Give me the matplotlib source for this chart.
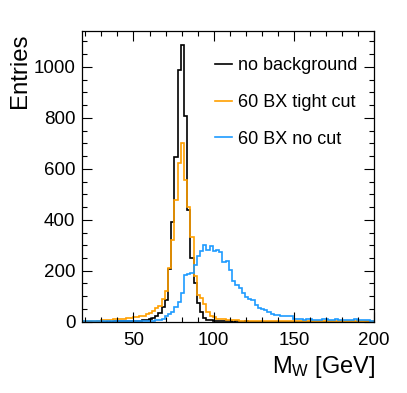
import numpy as np
import matplotlib
matplotlib.use("Agg")
import matplotlib.pyplot as plt
from matplotlib.ticker import MultipleLocator
from matplotlib.lines import Line2D

plt.rcParams['font.family'] = ['Liberation Sans', 'DejaVu Sans']
plt.rcParams['mathtext.fontset'] = 'custom'
plt.rcParams['mathtext.rm'] = 'Liberation Sans'
plt.rcParams['mathtext.it'] = 'Liberation Sans:italic'

# Histogram binning (GeV)
bin_edges = 17.5 + 2.0 * np.arange(93)

no_background = [
    0, 0, 0, 0, 0, 1, 0, 0, 1, 0,
    1, 1, 1, 1, 2, 2, 3, 3, 4, 5,
    6, 9, 14, 22, 35, 59, 86, 207, 393, 648,
    988, 1086, 808, 439, 250, 152, 74, 40, 16, 8,
    5, 3, 2, 2, 1, 1, 1, 0, 1, 0,
    0, 1, 0, 0, 0, 0, 0, 0, 0, 0,
    0, 0, 0, 0, 0, 0, 0, 0, 0, 0,
    0, 0, 0, 0, 0, 0, 0, 0, 0, 0,
    0, 0, 0, 0, 0, 0, 0, 0, 0, 0,
    0, 0,
]

bx60_tight_cut = [
    1, 1, 2, 2, 3, 4, 5, 6, 8, 8,
    10, 10, 12, 12, 14, 15, 18, 20, 21, 24,
    30, 35, 42, 55, 63, 90, 119, 210, 319, 478,
    622, 701, 557, 452, 332, 178, 106, 93, 70, 37,
    22, 20, 12, 10, 9, 8, 6, 5, 5, 4,
    4, 4, 3, 4, 3, 3, 3, 2, 3, 3,
    2, 3, 2, 2, 2, 2, 2, 2, 2, 2,
    2, 1, 2, 2, 1, 2, 2, 1, 2, 1,
    1, 2, 1, 1, 1, 2, 1, 1, 1, 1,
    1, 1,
]

bx60_no_cut = [
    1, 1, 1, 2, 1, 2, 2, 1, 2, 2,
    2, 2, 2, 2, 3, 2, 3, 3, 3, 3,
    3, 3, 4, 5, 6, 10, 21, 30, 37, 58,
    76, 112, 184, 188, 192, 224, 256, 276, 302, 282,
    298, 276, 280, 272, 236, 240, 204, 158, 145, 132,
    112, 97, 89, 84, 67, 54, 50, 47, 37, 31,
    27, 27, 24, 22, 21, 21, 10, 10, 9, 7,
    9, 9, 7, 7, 8, 11, 11, 7, 7, 9,
    7, 7, 6, 7, 7, 11, 6, 5, 5, 5,
    4, 4,
]

labels = ["no background", "60 BX tight cut", "60 BX no cut"]
colors = ["#000000", "#FF9F00", "#1E9BFF"]

W, H = 407, 393
fig = plt.figure(figsize=(W / 100, H / 100), dpi=100)
ax = fig.add_axes([81.7 / W, 1 - 321.7 / H, (374 - 81.7) / W, (321.7 - 31) / H])

series = [no_background, bx60_tight_cut, bx60_no_cut]
for vals, lab, col in zip(series, labels, colors):
    ax.stairs(np.array(vals, dtype=float), bin_edges, color=col, linewidth=1.2, label=lab)

ax.set_xlim(17.7, 200)
ax.set_ylim(0, 1141)

ax.xaxis.set_major_locator(MultipleLocator(50))
ax.xaxis.set_minor_locator(MultipleLocator(10))
ax.yaxis.set_major_locator(MultipleLocator(200))
ax.yaxis.set_minor_locator(MultipleLocator(50))
ax.tick_params(which='both', direction='in', top=True, right=True, width=0.8)
ax.tick_params(which='major', length=7, labelsize=13.5)
ax.tick_params(axis='x', which='major', pad=7.5)
ax.tick_params(axis='y', which='major', pad=4.5)
ax.tick_params(which='minor', length=3.5)
for s in ax.spines.values():
    s.set_linewidth(0.9)

fig.text(20 / W, 1 - 34 / H, "Entries", rotation=90, ha='center', va='top', fontsize=17.3)
fig.text(375 / W, 1 - 367 / H, r"M$_{\mathrm{W}}$ [GeV]", ha='right', va='center', fontsize=17)

leg_handles = [Line2D([], [], color=c, linewidth=1.2) for c in colors]
ax.legend(leg_handles, labels, loc='upper left',
          bbox_to_anchor=(215 / W, 1 - 57.5 / H), bbox_transform=fig.transFigure,
          frameon=False, fontsize=13, handlelength=0.95, handletextpad=0.3,
          labelspacing=1.08, borderpad=0, borderaxespad=0)

fig.savefig("out.png", dpi=100)
